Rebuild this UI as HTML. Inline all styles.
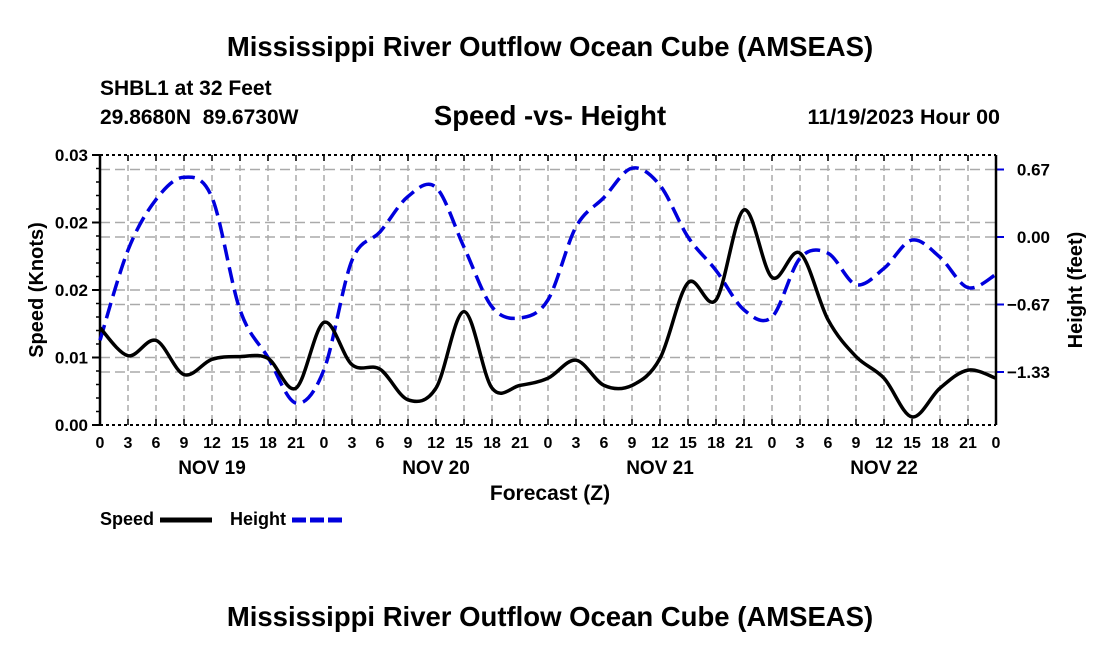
<!DOCTYPE html>
<html><head><meta charset="utf-8"><style>
body{margin:0;background:#fff;width:1100px;height:650px;overflow:hidden}
svg{font-family:"Liberation Sans",Arial,sans-serif;font-weight:bold}
</style></head><body>
<svg id="c" width="1100" height="650">
<text x="550" y="56" font-size="27.5" text-anchor="middle">Mississippi River Outflow Ocean Cube (AMSEAS)</text>
<text x="100" y="95" font-size="21">SHBL1 at 32 Feet</text>
<text x="100" y="124" font-size="21" xml:space="preserve" style="white-space:pre">29.8680N  89.6730W</text>
<text x="550" y="125" font-size="27.5" text-anchor="middle">Speed -vs- Height</text>
<text x="1000" y="124" font-size="21.5" text-anchor="end">11/19/2023 Hour 00</text>
<g id="grid"></g><g id="axes"></g><g id="series"></g>
<text x="550" y="500" font-size="21" text-anchor="middle">Forecast (Z)</text>
<text transform="translate(43,290) rotate(-90)" font-size="20" text-anchor="middle">Speed (Knots)</text>
<text transform="translate(1082,290) rotate(-90)" font-size="20" text-anchor="middle">Height (feet)</text>
<g><text x="100" y="525" font-size="18">Speed</text><line x1="160" y1="520" x2="212" y2="520" stroke="#000" stroke-width="5"/></g>
<g><text x="230" y="525" font-size="18">Height</text><line x1="292" y1="520" x2="342" y2="520" stroke="#0000dd" stroke-width="5" stroke-dasharray="14,4"/></g>
<text x="550" y="626" font-size="27.5" text-anchor="middle">Mississippi River Outflow Ocean Cube (AMSEAS)</text>
</svg>
<script>
const hours=[0,3,6,9,12,15,18,21,0,3,6,9,12,15,18,21,0,3,6,9,12,15,18,21,0,3,6,9,12,15,18,21,0];
const days=["NOV 19","NOV 20","NOV 21","NOV 22"];
const speed=[0.0108,0.0077,0.0094,0.0056,0.0073,0.0076,0.0074,0.0041,0.0114,0.0067,0.0062,0.0028,0.0041,0.0126,0.0041,0.0044,0.0052,0.0072,0.0044,0.0044,0.0074,0.0158,0.0139,0.0239,0.0164,0.0191,0.0117,0.0076,0.0052,0.0009,0.0041,0.0061,0.0052];
const height=[-1.02,-0.13,0.37,0.59,0.39,-0.72,-1.19,-1.64,-1.31,-0.23,0.05,0.40,0.49,-0.10,-0.69,-0.80,-0.62,0.10,0.39,0.68,0.51,0.00,-0.33,-0.72,-0.79,-0.21,-0.16,-0.47,-0.31,-0.03,-0.20,-0.50,-0.37];
const leftTicks=[0,0.0075,0.015,0.0225,0.03];
const leftLabels=["0.00","0.01","0.02","0.02","0.03"];
const rightTicks=[0.6667,0,-0.6667,-1.3333];
const rightLabels=["0.67","0.00","\u22120.67","\u22121.33"];
const L=100,R=996,T=155,B=425;
const X=i=>L+(R-L)*i/32;
const YS=v=>B-(B-T)*v/0.03;
const YH=h=>237-h*1.5*67.5;
const ns="http://www.w3.org/2000/svg";
function mk(p,t,a){const e=document.createElementNS(ns,t);for(const k in a)e.setAttribute(k,a[k]);p.appendChild(e);return e;}
const g=document.getElementById('grid'),ax=document.getElementById('axes'),se=document.getElementById('series');
for(let i=1;i<32;i++){const l=mk(g,'line',{x1:X(i),x2:X(i),y1:T,y2:B,stroke:'#aaa','stroke-width':1.5,'stroke-dasharray':'6,4'});
}
leftTicks.forEach((v,j)=>{if(v>0&&v<0.03){const l=mk(g,'line',{x1:L,x2:R,y1:YS(v),y2:YS(v),stroke:'#aaa','stroke-width':1.5,'stroke-dasharray':'10,5'});
}
const t=mk(ax,'text',{x:L-12,y:YS(v)+6,'font-size':17,'text-anchor':'end'});t.textContent=leftLabels[j];

mk(ax,'line',{x1:L-8,x2:L,y1:YS(v),y2:YS(v),stroke:'#000','stroke-width':2});});
for(let k=1;k<20;k++){const y=T+(B-T)*k/20;mk(ax,'line',{x1:L-4,x2:L,y1:y,y2:y,stroke:'#000','stroke-width':1.5});}
rightTicks.forEach((v,j)=>{const l=mk(g,'line',{x1:L,x2:R,y1:YH(v),y2:YH(v),stroke:'#aaa','stroke-width':1.5,'stroke-dasharray':'10,5'});

mk(ax,'line',{x1:R,x2:R+8,y1:YH(v),y2:YH(v),stroke:'#0000dd','stroke-width':2});
const t=mk(ax,'text',{x:1050,y:YH(v)+6,'font-size':17,'text-anchor':'end'});t.textContent=rightLabels[j];
});
hours.forEach((h,i)=>{const t=mk(ax,'text',{x:X(i),y:448,'font-size':16,'text-anchor':'middle'});t.textContent=h;

mk(ax,'line',{x1:X(i),x2:X(i),y1:B-6,y2:B,stroke:'#000','stroke-width':1.5});
mk(ax,'line',{x1:X(i),x2:X(i),y1:T,y2:T+6,stroke:'#000','stroke-width':1.5});});
days.forEach((d,k)=>{const t=mk(ax,'text',{x:X(4+8*k),y:474,'font-size':19,'text-anchor':'middle'});t.textContent=d;
});
mk(ax,'line',{x1:L,x2:R,y1:T,y2:T,stroke:'#000','stroke-width':2,'stroke-dasharray':'3,3'});
mk(ax,'line',{x1:L,x2:R,y1:B,y2:B,stroke:'#000','stroke-width':2,'stroke-dasharray':'3,3'});
mk(ax,'line',{x1:L,x2:L,y1:T,y2:B,stroke:'#000','stroke-width':2.5});
mk(ax,'line',{x1:R,x2:R,y1:T,y2:B,stroke:'#000','stroke-width':2.5});
function path(vals,fy){const p=vals.map((v,i)=>[X(i),fy(v)]);let d='M'+p[0];
for(let i=0;i<p.length-1;i++){const p0=p[Math.max(0,i-1)],p1=p[i],p2=p[i+1],p3=p[Math.min(p.length-1,i+2)];
const c1=[p1[0]+(p2[0]-p0[0])/6,p1[1]+(p2[1]-p0[1])/6],c2=[p2[0]-(p3[0]-p1[0])/6,p2[1]-(p3[1]-p1[1])/6];
d+=' C'+c1+' '+c2+' '+p2;}return d;}
const hp=mk(se,'path',{d:path(height,YH),fill:'none',stroke:'#0000dd','stroke-width':3.5,'stroke-dasharray':'16,7'});

const sp=mk(se,'path',{d:path(speed,YS),fill:'none',stroke:'#000','stroke-width':3.5});

</script>
</body></html>
